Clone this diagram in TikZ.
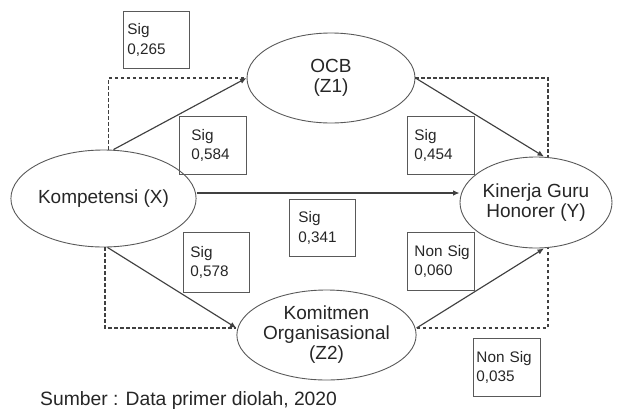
\documentclass[tikz,border=0pt]{standalone}
\usepackage{fontspec}
\setmainfont{Liberation Sans}
\usetikzlibrary{arrows.meta,shapes.geometric}
\begin{document}
\begin{tikzpicture}[x=1pt,y=-1pt,
  solidline/.style={draw=black!75, line width=1.15pt},
  arr/.style={solidline, -{Latex[length=6.5pt,width=5.5pt]}},
  dashline/.style={draw=black!75, line width=1.1pt, dash pattern=on 3.5pt off 2.5pt},
  ell/.style={ellipse, draw=black!65, line width=0.9pt, inner sep=0pt, align=center,
    font=\fontsize{19}{20}\selectfont, text=black!85},
  sbox/.style={rectangle, draw=black!65, line width=0.9pt, anchor=north west, align=left,
    font=\fontsize{15.3}{19.5}\selectfont, inner ysep=0pt, text=black!85},
  caption/.style={anchor=base west, inner sep=0pt, font=\fontsize{19.3}{20}\selectfont, text=black!85}
]
\useasboundingbox (0,0) rectangle (624,410);

% ellipses
\node[ell, minimum width=173, minimum height=97] (X) at (103.5,198.5) {Kompetensi (X)};
\node[ell, minimum width=168, minimum height=90] (Z1) at (331,78) {OCB\\(Z1)};
\node[ell, minimum width=152, minimum height=91] (Y) at (536,202.5) {Kinerja Guru\\Honorer (Y)};
\node[ell, minimum width=167, minimum height=90] (Z2) at (326.5,335) {Komitmen\\Organisasional\\(Z2)};

% connectors
\draw[dashline] ([xshift=5]X.north) |- (Z1.west);
\draw[arr] ([xshift=10]X.north) -- (Z1.west);
\draw[dashline] (Z1.east) -| ([xshift=12]Y.north);
\draw[arr] (Z1.east) -- ([xshift=8]Y.north);
\draw[arr] ([yshift=5.5]X.east) -- ([yshift=5.5]X.east -| Y.west);
\draw[dashline] ([xshift=1.5]X.south) |- ([yshift=7]Z2.west);
\draw[arr] ([xshift=4]X.south) -- ([yshift=7]Z2.west);
\draw[dashline] ([yshift=7]Z2.east) -| ([xshift=12]Y.south);
\draw[arr] ([yshift=7]Z2.east) -- ([xshift=8]Y.south);

% boxes
\node[sbox, minimum width=66, minimum height=57, inner xsep=4, text width=58] (b1) at (123,11) {Sig\\0,265};
\node[sbox, minimum width=67, minimum height=58, inner xsep=12, text width=43] (b2) at (179,116) {Sig\\0,584};
\node[sbox, minimum width=67, minimum height=58, inner xsep=7, text width=53] (b3) at (407,116) {Sig\\0,454};
\node[sbox, minimum width=66, minimum height=57, inner xsep=9, text width=48] (b4) at (289,199) {Sig\\0,341};
\node[sbox, minimum width=66, minimum height=60, inner xsep=7, text width=52] (b5) at (183,232) {Sig\\0,578};
\node[sbox, minimum width=67, minimum height=58, inner xsep=7, text width=53] (b6) at (407,232) {\makebox[0pt][l]{Non Sig}\\0,060};
\node[sbox, minimum width=67, minimum height=58, inner xsep=3, text width=61] (b7) at (473,338) {Non Sig\\0,035};

% caption
\node[caption] (cap) at (40,405) {Sumber : Data primer diolah, 2020};
\end{tikzpicture}
\end{document}
